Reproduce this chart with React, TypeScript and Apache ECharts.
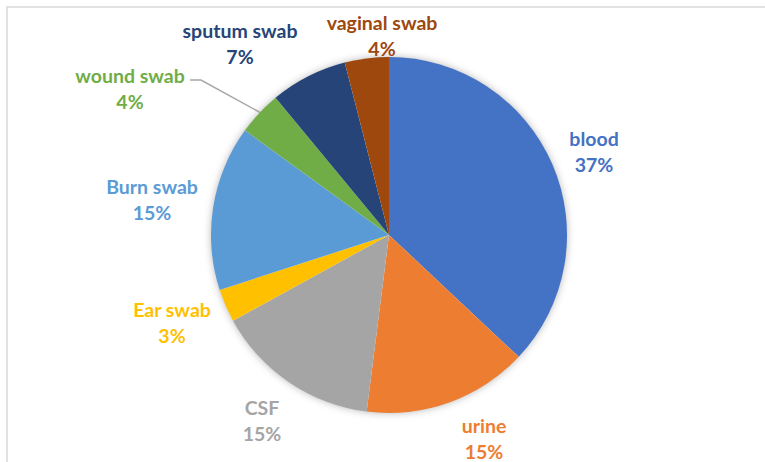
import React, { useEffect, useRef } from "react";
import * as echarts from "echarts";

const categories = ["blood", "urine", "CSF", "Ear swab", "Burn swab", "wound swab", "sputum swab", "vaginal swab"];
const percents = [37, 15, 15, 3, 15, 4, 7, 4];
const colors = ["#4472C4", "#ED7D31", "#A5A5A5", "#FFC000", "#5B9BD5", "#70AD47", "#264478", "#9E480E"];
// label centre positions (layout, px)
const labelPos: [number, number][] = [
  [594, 151],
  [484, 438],
  [262, 420],
  [172, 322],
  [152, 199],
  [130, 88],
  [240, 43],
  [382, 35],
];

const CX = 389;
const CY = 235;
const R = 178;

export default function App() {
  const ref = useRef<HTMLDivElement>(null);
  useEffect(() => {
    if (!ref.current) return;
    const chart = echarts.init(ref.current, undefined, { renderer: "svg" });
    chart.setOption({
      animation: false,
      backgroundColor: "#ffffff",
      graphic: [
        {
          type: "rect",
          z: -10,
          shape: { x: 7, y: 7, width: 800, height: 500 },
          style: { fill: "none", stroke: "#d9d9d9", lineWidth: 1.5 },
        },
        {
          type: "circle",
          z: -5,
          shape: { cx: CX, cy: CY, r: R - 1 },
          style: { fill: "#ffffff", shadowBlur: 8, shadowColor: "rgba(0,0,0,0.35)" },
        },
      ],
      series: [
        {
          type: "pie",
          center: [CX, CY],
          radius: R,
          startAngle: 90,
          clockwise: true,
          avoidLabelOverlap: false,
          itemStyle: { borderWidth: 0 },
          label: {
            show: true,
            position: "outside",
            formatter: "{b}\n{c}%",
            fontFamily: "Lato",
            fontWeight: "bold",
            fontSize: 19.5,
            lineHeight: 26,
            align: "center",
          },
          labelLine: { show: false },
          labelLayout: (params: any) => {
            const p = labelPos[params.dataIndex];
            const res: any = { x: p[0], y: p[1], align: "center", verticalAlign: "middle" };
            if (params.dataIndex === 5) {
              res.labelLinePoints = [
                [261, 113],
                [201, 80],
                [190, 80],
              ];
            }
            return res;
          },
          data: categories.map((name, i) => ({
            name,
            value: percents[i],
            itemStyle: { color: colors[i] },
            label: { color: colors[i] },
            labelLine: i === 5 ? { show: true, lineStyle: { color: "#a6a6a6", width: 1.5 } } : { show: false },
          })),
        },
      ],
    });
    return () => chart.dispose();
  }, []);
  return <div ref={ref} style={{ position: "absolute", left: 0, top: 0, width: 765, height: 462 }} />;
}
